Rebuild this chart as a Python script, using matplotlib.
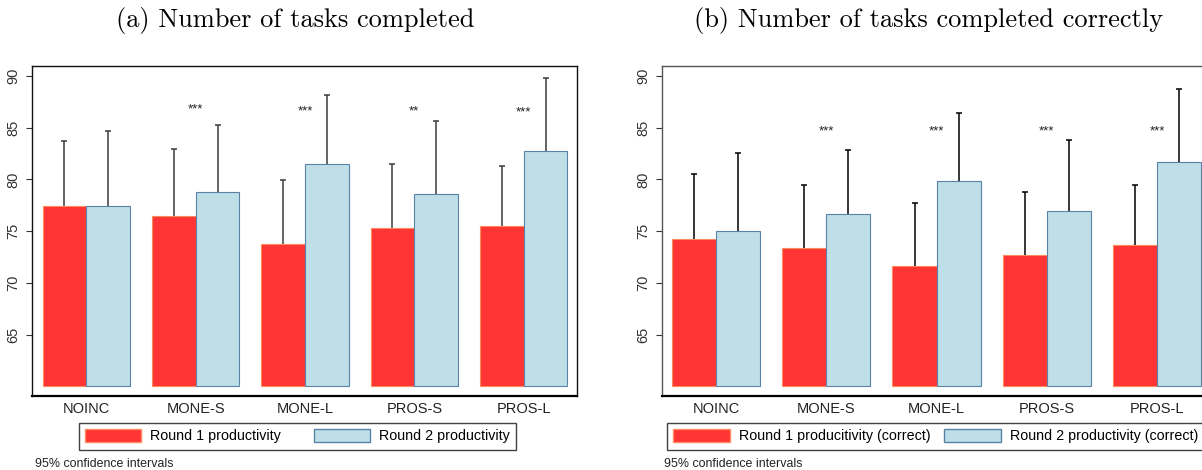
import matplotlib
matplotlib.use('Agg')
import matplotlib.pyplot as plt
from matplotlib.patches import Patch
import numpy as np

treatments = ['NOINC', 'MONE-S', 'MONE-L', 'PROS-S', 'PROS-L']

# (a) tasks completed
done_r1 = [77.4, 76.5, 73.8, 75.3, 75.5]
done_r1_hi = [83.7, 82.9, 79.9, 81.5, 81.3]
done_r2 = [77.4, 78.8, 81.45, 78.6, 82.75]
done_r2_hi = [84.7, 85.2, 88.1, 85.6, 89.8]
done_stars = ['', '***', '***', '**', '***']
done_star_y = [0, 86.7, 86.6, 86.6, 86.5]

# (b) tasks completed correctly
correct_r1 = [74.25, 73.35, 71.65, 72.7, 73.7]
correct_r1_hi = [80.5, 79.45, 77.7, 78.8, 79.45]
correct_r2 = [75.05, 76.65, 79.85, 76.9, 81.7]
correct_r2_hi = [82.55, 82.85, 86.45, 83.8, 88.7]
correct_stars = ['', '***', '***', '***', '***']
correct_star_y = [0, 84.6, 84.6, 84.65, 84.65]

BASE = 60
RED = '#ff3434'
RED_EDGE = '#ff8a5c'
BLUE = '#bfdfe8'
BLUE_EDGE = '#5a82a6'
SANS = 'Liberation Sans'
W, H = 1202, 470


def draw_panel(ax, r1, r1_hi, r2, r2_hi, stars, star_y, err_color, spine_color):
    x = np.arange(len(treatments))
    w = 0.4
    r1 = np.array(r1)
    r2 = np.array(r2)
    up1 = np.array(r1_hi) - r1
    up2 = np.array(r2_hi) - r2

    # symmetric intervals; lower halves sit behind the bars
    ax.errorbar(x - w / 2, r1, yerr=[up1, up1], fmt='none', ecolor=err_color,
                elinewidth=1.1, capsize=2.5, capthick=1.1, zorder=1)
    ax.errorbar(x + w / 2, r2, yerr=[up2, up2], fmt='none', ecolor=err_color,
                elinewidth=1.1, capsize=2.5, capthick=1.1, zorder=1)

    ax.bar(x - w / 2, r1 - BASE, w, bottom=BASE, color=RED, edgecolor=RED_EDGE,
           linewidth=0.8, zorder=2)
    ax.bar(x + w / 2, r2 - BASE, w, bottom=BASE, color=BLUE, edgecolor=BLUE_EDGE,
           linewidth=0.8, zorder=2)

    for xi, s, yi in zip(x, stars, star_y):
        if s:
            ax.text(xi, yi, s, ha='center', va='center', fontsize=9.5,
                    family=SANS, color='#222222')

    ax.set_xlim(-0.494, 4.485)
    ax.set_ylim(59.11, 90.97)
    ax.set_yticks([65, 70, 75, 80, 85, 90])
    ax.set_yticklabels(['65', '70', '75', '80', '85', '90'], rotation=90,
                       va='center', family=SANS, fontsize=10.5, color='#333333')
    ax.tick_params(axis='y', length=4.5, width=0.8, pad=4, color='#333333')
    ax.set_xticks(x)
    ax.set_xticklabels(treatments, family=SANS, fontsize=10.5, color='#222222')
    ax.tick_params(axis='x', length=0, pad=4.5)
    for side in ['top', 'left', 'right']:
        ax.spines[side].set_color(spine_color)
        ax.spines[side].set_linewidth(1.0)
    ax.spines['bottom'].set_color('black')
    ax.spines['bottom'].set_linewidth(1.6)


def add_legend(labels, left_px, colspace):
    handles = [Patch(facecolor=RED, edgecolor=RED_EDGE, label=labels[0]),
               Patch(facecolor=BLUE, edgecolor=BLUE_EDGE, label=labels[1])]
    leg = fig.legend(handles=handles, loc='upper left',
                     bbox_to_anchor=(left_px / W, 1 - 422.7 / H),
                     ncol=2, frameon=True, fancybox=False, edgecolor='#111111',
                     handlelength=3.95, handleheight=1.0, handletextpad=0.6,
                     columnspacing=colspace, borderpad=0.45, borderaxespad=0,
                     prop={'family': SANS, 'size': 10.3})
    leg.get_frame().set_linewidth(1.0)
    return leg


fig = plt.figure(figsize=(W / 100, H / 100), dpi=100, facecolor='white')

ax1 = fig.add_axes([32.3 / W, 1 - 395.7 / H, 544.4 / W, 330 / H])
draw_panel(ax1, done_r1, done_r1_hi, done_r2, done_r2_hi, done_stars, done_star_y,
           '#3a3a3a', '#111111')

ax2 = fig.add_axes([661.7 / W, 1 - 395.7 / H, 548.7 / W, 330 / H])
draw_panel(ax2, correct_r1, correct_r1_hi, correct_r2, correct_r2_hi,
           correct_stars, correct_star_y, 'black', '#555555')

fig.text(295 / W, 1 - 21 / H, '(a) Number of tasks completed',
         family='cmr10', fontsize=19, ha='center', va='center')
fig.text(929 / W, 1 - 21 / H, '(b) Number of tasks completed correctly',
         family='cmr10', fontsize=19, ha='center', va='center')

add_legend(['Round 1 productivity', 'Round 2 productivity'], 78.5, 2.3)
add_legend(['Round 1 producitivity (correct)', 'Round 2 productivity (correct)'], 667, 1.0)

fig.text(35 / W, 1 - 464 / H, '95% confidence intervals', family=SANS,
         fontsize=8.9, color='#222222', ha='left', va='center')
fig.text(664.5 / W, 1 - 464 / H, '95% confidence intervals', family=SANS,
         fontsize=8.9, color='#222222', ha='left', va='center')

fig.savefig('out.png', dpi=100, facecolor='white')
